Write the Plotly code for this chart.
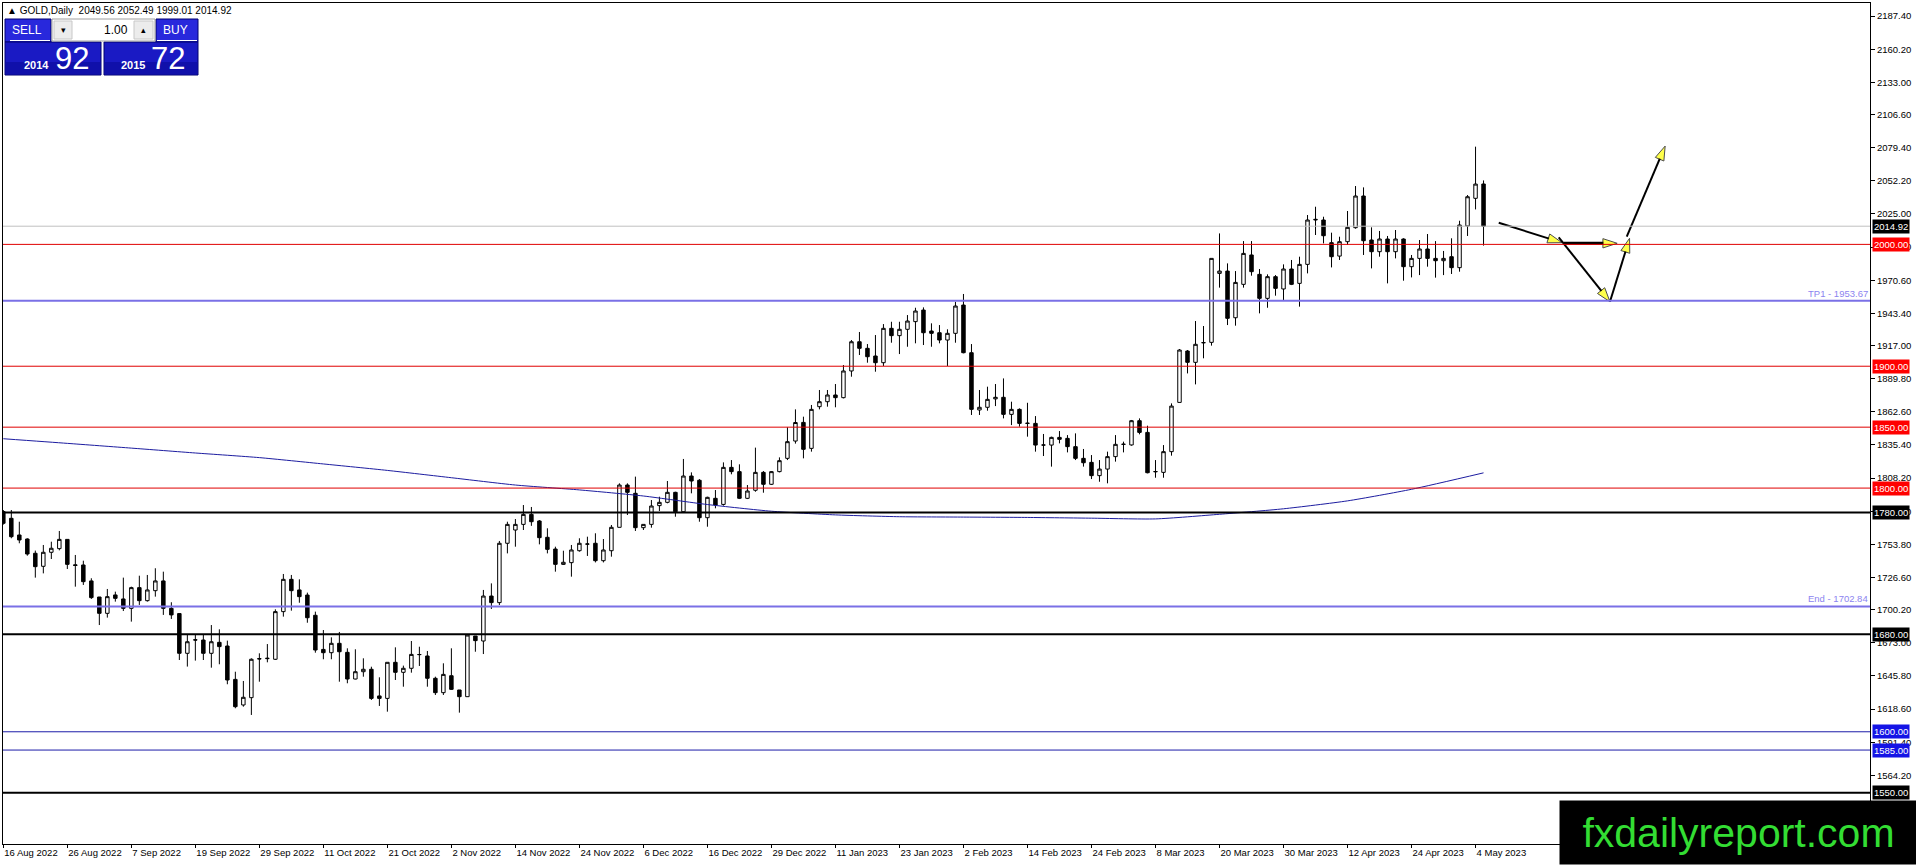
import pandas as pd
import plotly.graph_objects as go

# broker daily calendar (no bar on 26 Dec, 2 Jan, 7 Apr)
dates = pd.bdate_range("2022-08-16", "2023-05-05")
dates = dates.drop(pd.to_datetime(["2022-12-26", "2023-01-02", "2023-04-07"]))

opens = [
    1780.7, 1775.2, 1761.5, 1758.2, 1746.5, 1735.8, 1747.3, 1750.3, 1757.9, 1737.0,
    1736.9, 1723.8, 1710.6, 1697.2, 1712.3, 1709.0, 1701.3, 1718.3, 1707.6, 1715.8,
    1723.8, 1701.3, 1697.0, 1664.4, 1675.5, 1675.3, 1664.4, 1673.4, 1670.4, 1643.0,
    1622.0, 1628.0, 1659.7, 1660.0, 1659.5, 1698.6, 1725.1, 1716.4, 1712.2, 1695.6,
    1667.6, 1664.9, 1672.6, 1665.2, 1643.3, 1649.3, 1651.3, 1629.4, 1627.4, 1657.0,
    1648.8, 1652.1, 1663.3, 1662.2, 1643.9, 1632.1, 1646.0, 1634.3, 1628.8, 1678.6,
    1674.5, 1711.4, 1706.0, 1754.7, 1765.6, 1770.2, 1778.4, 1773.0, 1759.6, 1750.0,
    1737.4, 1738.8, 1748.6, 1754.0, 1754.7, 1740.4, 1748.6, 1767.8, 1802.5, 1795.7,
    1767.5, 1770.2, 1785.6, 1788.3, 1796.5, 1780.6, 1809.9, 1806.4, 1775.7, 1791.6,
    1786.6, 1817.0, 1813.5, 1791.6, 1798.2, 1812.9, 1803.1, 1813.5, 1824.4, 1838.6,
    1853.9, 1832.6, 1866.8, 1870.9, 1876.4, 1874.2, 1896.1, 1920.1, 1914.7, 1908.4,
    1902.9, 1931.1, 1925.1, 1930.3, 1936.6, 1946.1, 1928.9, 1927.5, 1921.5, 1927.0,
    1950.2, 1911.1, 1864.1, 1866.3, 1873.2, 1874.5, 1860.5, 1864.6, 1853.3, 1853.1,
    1835.4, 1835.3, 1841.6, 1840.8, 1834.0, 1824.4, 1821.1, 1810.2, 1815.6, 1825.8,
    1835.8, 1835.4, 1855.3, 1845.7, 1813.3, 1812.9, 1829.9, 1870.3, 1912.5, 1903.2,
    1919.4, 1919.6, 1976.2, 1978.1, 1939.8, 1967.2, 1991.3, 1975.4, 1955.7, 1973.5,
    1963.4, 1979.8, 1968.0, 1983.6, 2020.0, 2020.0, 2001.4, 1990.4, 2002.2, 2013.7,
    2039.7, 2003.6, 1994.0, 2004.4, 1994.0, 2004.4, 1981.7, 1988.5, 1996.2, 1988.5,
    1986.6, 1989.9, 1980.9, 2015.1, 2037.8, 2049.56,
]
highs = [
    1782.0, 1782.0, 1772.4, 1758.8, 1748.7, 1753.3, 1756.0, 1764.8, 1758.0, 1745.1,
    1740.4, 1726.0, 1710.6, 1717.2, 1715.0, 1726.5, 1719.1, 1728.1, 1728.7, 1734.2,
    1731.4, 1706.3, 1697.0, 1680.0, 1680.0, 1679.5, 1687.6, 1684.1, 1674.8, 1649.3,
    1641.7, 1660.3, 1664.4, 1672.0, 1700.5, 1729.5, 1728.7, 1725.1, 1714.2, 1698.6,
    1683.5, 1677.5, 1681.9, 1668.5, 1667.7, 1660.3, 1653.4, 1644.7, 1657.0, 1669.3,
    1654.3, 1674.5, 1669.8, 1666.3, 1645.2, 1656.2, 1668.5, 1634.3, 1679.4, 1678.6,
    1716.4, 1721.8, 1756.6, 1772.4, 1774.6, 1786.1, 1784.5, 1773.8, 1767.0, 1751.9,
    1748.6, 1753.3, 1758.8, 1760.1, 1762.9, 1758.2, 1769.7, 1803.9, 1803.9, 1809.4,
    1770.2, 1790.2, 1792.9, 1805.8, 1797.0, 1823.9, 1812.9, 1807.4, 1792.9, 1798.4,
    1821.1, 1823.0, 1819.5, 1802.5, 1833.2, 1814.0, 1814.0, 1825.2, 1849.9, 1864.6,
    1858.6, 1868.2, 1880.5, 1880.5, 1885.4, 1901.0, 1921.5, 1928.1, 1918.2, 1925.6,
    1934.6, 1936.5, 1936.5, 1942.0, 1948.0, 1948.3, 1935.2, 1933.8, 1930.3, 1952.9,
    1959.3, 1918.2, 1880.5, 1883.2, 1885.4, 1890.0, 1870.9, 1865.4, 1870.0, 1859.1,
    1844.4, 1842.2, 1846.8, 1843.5, 1844.9, 1832.1, 1827.1, 1823.0, 1829.9, 1843.5,
    1838.1, 1855.9, 1857.2, 1851.2, 1823.0, 1835.3, 1869.5, 1914.1, 1913.3, 1937.1,
    1933.0, 1988.5, 2009.0, 1984.4, 1978.1, 2002.7, 2002.7, 1979.8, 1975.4, 1974.8,
    1983.6, 1987.2, 1989.9, 2024.1, 2030.9, 2022.7, 2009.6, 2006.3, 2027.4, 2047.9,
    2046.8, 2014.0, 2011.0, 2006.9, 2011.8, 2005.0, 1991.3, 2003.6, 2008.5, 2002.7,
    1994.6, 2005.0, 2019.4, 2040.5, 2080.2, 2052.49,
]
lows = [
    1770.0, 1758.8, 1754.7, 1744.5, 1726.5, 1730.0, 1741.8, 1748.9, 1733.6, 1719.1,
    1720.5, 1709.0, 1687.6, 1693.7, 1706.8, 1699.1, 1690.4, 1704.1, 1706.8, 1710.9,
    1695.9, 1692.6, 1658.9, 1653.5, 1658.4, 1658.9, 1652.6, 1655.4, 1639.0, 1619.3,
    1620.6, 1613.8, 1641.1, 1657.0, 1658.9, 1694.5, 1699.4, 1705.9, 1689.5, 1664.9,
    1659.5, 1659.5, 1641.1, 1639.8, 1643.0, 1645.2, 1626.1, 1621.2, 1616.5, 1642.5,
    1637.0, 1648.5, 1654.0, 1637.0, 1630.2, 1630.2, 1634.3, 1615.7, 1628.8, 1665.7,
    1663.8, 1700.8, 1704.0, 1746.4, 1751.9, 1765.6, 1769.0, 1753.8, 1746.4, 1731.4,
    1736.9, 1727.3, 1747.8, 1744.3, 1739.0, 1739.0, 1743.7, 1767.8, 1777.9, 1764.8,
    1765.6, 1767.5, 1781.2, 1787.5, 1776.5, 1780.6, 1795.7, 1772.4, 1768.3, 1783.4,
    1785.6, 1811.3, 1791.0, 1791.0, 1797.0, 1796.2, 1802.5, 1812.9, 1823.0, 1836.5,
    1824.4, 1829.9, 1864.6, 1866.8, 1866.3, 1873.6, 1891.4, 1909.2, 1902.9, 1895.5,
    1900.2, 1919.3, 1910.0, 1916.0, 1918.8, 1917.4, 1916.0, 1918.8, 1900.2, 1919.3,
    1910.6, 1860.0, 1860.0, 1863.5, 1867.3, 1857.2, 1851.7, 1850.4, 1842.2, 1829.9,
    1826.3, 1817.6, 1836.7, 1829.3, 1823.0, 1817.6, 1807.4, 1805.2, 1803.9, 1821.7,
    1829.3, 1834.8, 1844.1, 1812.1, 1808.5, 1808.5, 1826.6, 1870.3, 1894.1, 1885.1,
    1906.5, 1916.9, 1964.5, 1933.8, 1933.3, 1964.5, 1974.3, 1943.4, 1948.0, 1957.9,
    1954.3, 1966.6, 1948.9, 1976.2, 2007.7, 2000.8, 1981.1, 1987.2, 1999.5, 2012.9,
    1991.3, 1980.3, 1989.9, 1968.0, 1988.5, 1970.2, 1972.9, 1974.8, 1981.7, 1972.7,
    1974.8, 1975.7, 1977.6, 2006.9, 2028.7, 1999.01,
]
closes = [
    1771.1, 1760.1, 1757.4, 1745.9, 1735.5, 1747.3, 1750.6, 1757.9, 1737.4, 1736.5,
    1723.2, 1710.1, 1697.2, 1710.9, 1709.5, 1701.3, 1718.3, 1707.6, 1716.4, 1723.8,
    1701.3, 1695.9, 1664.4, 1673.9, 1675.3, 1664.4, 1673.9, 1669.9, 1642.5, 1620.6,
    1628.3, 1659.5, 1660.0, 1660.3, 1698.6, 1725.1, 1715.8, 1710.9, 1693.6, 1667.1,
    1664.9, 1672.6, 1665.7, 1643.3, 1649.3, 1651.3, 1627.4, 1627.4, 1657.0, 1648.8,
    1652.1, 1663.5, 1663.4, 1643.9, 1632.1, 1647.1, 1634.8, 1628.8, 1679.4, 1674.8,
    1711.4, 1706.0, 1754.7, 1770.2, 1770.2, 1778.4, 1772.4, 1759.3, 1749.7, 1737.4,
    1739.1, 1749.2, 1754.7, 1754.1, 1740.4, 1749.2, 1767.8, 1802.5, 1796.5, 1767.5,
    1770.2, 1785.3, 1788.3, 1796.5, 1780.6, 1809.9, 1805.8, 1775.7, 1792.4, 1786.1,
    1817.0, 1813.5, 1791.6, 1797.6, 1812.9, 1803.1, 1813.5, 1822.5, 1838.1, 1853.8,
    1831.8, 1864.6, 1870.9, 1876.4, 1874.2, 1896.1, 1920.1, 1914.7, 1907.8, 1902.9,
    1931.1, 1925.1, 1930.3, 1937.1, 1945.3, 1927.5, 1927.0, 1921.5, 1927.0, 1949.4,
    1911.1, 1864.6, 1866.3, 1872.8, 1874.5, 1860.5, 1864.6, 1853.1, 1853.1, 1835.3,
    1835.3, 1841.6, 1840.0, 1834.0, 1824.4, 1820.8, 1810.2, 1815.6, 1825.8, 1835.9,
    1836.0, 1855.3, 1845.7, 1812.6, 1813.6, 1829.9, 1867.3, 1913.3, 1903.2, 1918.0,
    1919.3, 1988.5, 1978.1, 1939.3, 1968.8, 1992.6, 1977.6, 1955.7, 1973.5, 1963.9,
    1979.8, 1967.2, 1983.6, 2020.0, 2020.5, 2007.1, 1989.9, 2002.2, 2014.0, 2039.7,
    2003.0, 1994.0, 2004.4, 1994.0, 2004.4, 1981.7, 1988.5, 1996.2, 1988.5, 1986.6,
    1988.5, 1980.9, 2015.9, 2039.1, 2049.5, 2014.92,
]

# moving average read at every 8th bar
ma_bars = [0, 8, 16, 24, 32, 40, 48, 56, 64, 72, 80, 88, 96, 104, 112, 120,
           128, 136, 144, 152, 160, 168, 176, 185]
ma_vals = [1840.5, 1836.7, 1832.8, 1828.8, 1825.0, 1819.8, 1814.5, 1808.5,
           1802.5, 1798.5, 1793.5, 1786.5, 1781.0, 1778.0, 1776.5, 1776.2,
           1775.9, 1775.3, 1774.7, 1778.5, 1783.0, 1789.5, 1799.0, 1812.5]

red_levels = [2000, 1900, 1850, 1800]
black_levels = [1780, 1680, 1550]
blue_levels = [1600, 1585]
target_levels = [1953.67, 1702.84]
target_names = ["TP1", "End"]
bid = 2014.92

yticks = [2187.40, 2160.20, 2133.00, 2106.60, 2079.40, 2052.20, 2025.00,
          1997.80, 1970.60, 1943.40, 1917.00, 1889.80, 1862.60, 1835.40,
          1808.20, 1781.00, 1753.80, 1726.60, 1700.20, 1673.00, 1645.80,
          1618.60, 1591.40, 1564.20, 1537.00]

# hand-drawn arrows (bar index, price)
arrow_x0 = [186.9, 195.0, 194.4, 200.8, 202.9]
arrow_y0 = [2017.8, 2000.9, 2005.8, 1952.9, 2006.3]
arrow_x1 = [194.8, 201.7, 200.8, 203.25, 207.7]
arrow_y1 = [2001.4, 2000.9, 1952.9, 2005.0, 2080.7]
arrow_w = [2, 3, 2, 2, 2]

FONT = "Liberation Sans"
W, H = 1916, 865
L, R, T, B = 3, 46, 3, 21
pw, ph = W - L - R, H - T - B


def px(x):
    return (x - L) / pw


def py(y):
    return (H - B - y) / ph


bars = list(range(len(dates)))

fig = go.Figure()

fig.add_trace(go.Candlestick(
    x=bars, open=opens, high=highs, low=lows, close=closes,
    increasing=dict(line=dict(color="black", width=1), fillcolor="white"),
    decreasing=dict(line=dict(color="black", width=1), fillcolor="black"),
    whiskerwidth=0, hoverinfo="skip",
))

fig.add_trace(go.Scatter(
    x=ma_bars, y=ma_vals, mode="lines",
    line=dict(color="#1c1ca0", width=1, shape="spline", smoothing=0.6),
    hoverinfo="skip",
))

for x0, y0, x1, y1, w in zip(arrow_x0, arrow_y0, arrow_x1, arrow_y1, arrow_w):
    fig.add_trace(go.Scatter(
        x=[x0, x1], y=[y0, y1], mode="lines+markers",
        line=dict(color="black", width=w),
        marker=dict(symbol="arrow", size=[0, 15], angleref="previous",
                    color="#ffff00", line=dict(color="black", width=1)),
        hoverinfo="skip",
    ))

shapes = []
annots = []


def level(y, color, width, tag_bg=None):
    shapes.append(dict(type="line", xref="paper", x0=0, x1=1, yref="y",
                       y0=y, y1=y, line=dict(color=color, width=width),
                       layer="above"))
    if tag_bg:
        annots.append(dict(x=1, xref="paper", xanchor="left", xshift=2,
                           y=y, yref="y", text=f"{y:.2f}", showarrow=False,
                           bgcolor=tag_bg, borderpad=1,
                           font=dict(family=FONT, size=9.5, color="white")))


level(bid, "#c0c0c0", 1, "#000000")
for lv in red_levels:
    level(lv, "#e00000", 1, "#ff0000")
for lv in black_levels:
    level(lv, "#000000", 2, "#000000")
for lv in blue_levels:
    level(lv, "#1c1ca8", 1, "#1414e6")
for lv, name in zip(target_levels, target_names):
    level(lv, "#7a70e6", 2)
    annots.append(dict(x=1, xref="paper", xanchor="right", y=lv, yref="y",
                       yanchor="bottom", text=f"{name} - {lv:.2f}",
                       showarrow=False,
                       font=dict(family=FONT, size=9.5, color="#8c84f0")))

# header line
annots.append(dict(x=px(5), y=py(11), xref="paper", yref="paper",
                   xanchor="left", yanchor="middle", showarrow=False,
                   text=f"\u25b2 GOLD,Daily  {opens[-1]:.2f} {highs[-1]:.2f} "
                        f"{lows[-1]:.2f} {closes[-1]:.2f}",
                   font=dict(family=FONT, size=10, color="black")))


# one-click trading panel
def box(x0, y0, x1, y1, fill, line="#000070"):
    shapes.append(dict(type="rect", xref="paper", yref="paper",
                       x0=px(x0), x1=px(x1), y0=py(y1), y1=py(y0),
                       fillcolor=fill, line=dict(color=line, width=1),
                       layer="above"))


def label(x, y, text, size, color="white", anchor="center"):
    annots.append(dict(x=px(x), y=py(y), xref="paper", yref="paper",
                       xanchor=anchor, yanchor="middle", showarrow=False,
                       text=text, font=dict(family=FONT, size=size, color=color)))


box(5, 19, 51, 42, "#2828dc")
box(156, 19, 198, 42, "#2828dc")
box(5, 42, 101, 75, "#1a1ac4")
box(104, 42, 198, 75, "#1a1ac4")
# darker lower band of the price buttons
for bx0, bx1 in [(5, 101), (104, 198)]:
    shapes.append(dict(type="rect", xref="paper", yref="paper",
                       x0=px(bx0 + 1), x1=px(bx1 - 1), y0=py(74), y1=py(62),
                       fillcolor="#1010aa", line=dict(width=0), layer="above"))
box(52, 19, 155, 41, "white", "#a0a0a0")
box(54, 21, 72, 39, "#ececec", "#c8c8c8")
box(134, 21, 153, 39, "#ececec", "#c8c8c8")
shapes.append(dict(type="line", xref="paper", yref="paper", x0=px(10), x1=px(50),
                   y0=py(40.5), y1=py(40.5), line=dict(color="white", width=1),
                   layer="above"))
shapes.append(dict(type="line", xref="paper", yref="paper", x0=px(157), x1=px(197),
                   y0=py(40.5), y1=py(40.5), line=dict(color="white", width=1),
                   layer="above"))
label(27, 30, "SELL", 12)
label(175, 30, "BUY", 12)
label(63, 30, "\u25be", 9, "black")
label(143, 30, "\u25b4", 9, "black")
label(130, 30, "1.00", 12, "black", "right")
label(36, 65, "<b>2014</b>", 11)
label(72, 59, "92", 31)
label(133, 65, "<b>2015</b>", 11)
label(168, 59, "72", 31)

# watermark
annots.append(dict(x=px(1559), y=py(865), xref="paper", yref="paper",
                   xanchor="left", yanchor="bottom", width=357, height=63,
                   bgcolor="black", borderpad=0, showarrow=False,
                   text="fxdailyreport.com",
                   font=dict(family=FONT, size=41, color="#33dd33")))

tick_idx = list(range(0, len(dates), 8))
fig.update_layout(
    width=W, height=H,
    margin=dict(l=L, r=R, t=T, b=B),
    paper_bgcolor="white", plot_bgcolor="white",
    showlegend=False, hovermode=False,
    boxgap=0.38,
    shapes=shapes, annotations=annots,
    xaxis=dict(
        range=[-0.04, 233.3], rangeslider=dict(visible=False),
        showgrid=False, zeroline=False,
        showline=True, linecolor="black", linewidth=1, mirror=True,
        ticks="outside", ticklen=3, tickcolor="black",
        tickvals=tick_idx,
        ticktext=[f"{dates[i].day} {dates[i].strftime('%b %Y')}" for i in tick_idx],
        ticklabelposition="outside right",
        tickfont=dict(family=FONT, size=9.5, color="black"),
    ),
    yaxis=dict(
        side="right", range=[1507.9, 2198.1],
        showgrid=False, zeroline=False,
        showline=True, linecolor="black", linewidth=1, mirror=True,
        ticks="outside", ticklen=4, tickcolor="black",
        tickvals=yticks, ticktext=[f"{v:.2f}" for v in yticks],
        tickfont=dict(family=FONT, size=9.5, color="black"),
    ),
)

# drop the default page margin so the figure sits at the window origin
fig.write_html("out.html", config={"displayModeBar": False},
               post_script="document.body.style.margin='0';"
                           "document.body.style.overflow='hidden';")
